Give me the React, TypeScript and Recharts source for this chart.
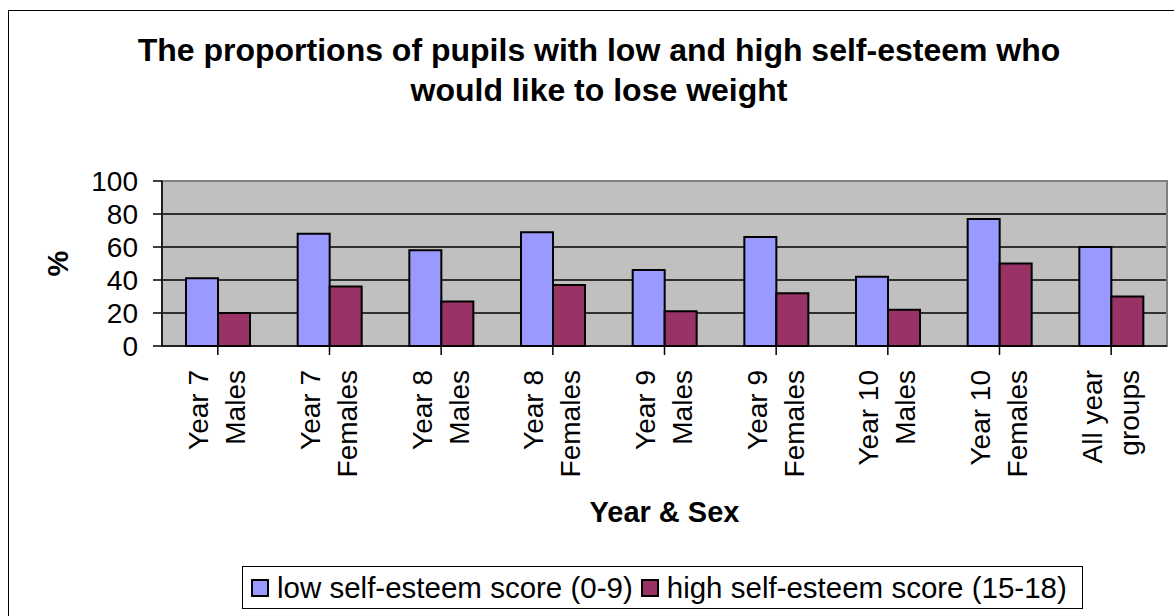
import React from 'react';
import { BarChart, Bar, XAxis, YAxis, CartesianGrid, Legend, ReferenceArea, Label } from 'recharts';

const categories = ['Year 7\nMales', 'Year 7\nFemales', 'Year 8\nMales', 'Year 8\nFemales', 'Year 9\nMales', 'Year 9\nFemales', 'Year 10\nMales', 'Year 10\nFemales', 'All year\ngroups'];
const lowSelfEsteem = [41, 68, 58, 69, 46, 66, 42, 77, 60];
const highSelfEsteem = [20, 36, 27, 37, 21, 32, 22, 50, 30];
const yTicks = [0, 20, 40, 60, 80, 100];
const seriesKeys = ['low', 'high'];
const seriesNames = ['low self-esteem score (0-9)', 'high self-esteem score (15-18)'];
const titleLines = ['The proportions of pupils with low and high self-esteem who', 'would like to lose weight'];

const data = categories.map((c, i) => ({ cat: c, low: lowSelfEsteem[i], high: highSelfEsteem[i] }));

const FONT = '"Liberation Sans", Arial, Helvetica, sans-serif';
const LOW_COLOR = '#9999FF';
const HIGH_COLOR = '#993366';

const CatTick = (props: any) => {
  const { x, y, payload } = props;
  const lines = String(payload.value).split('\n');
  return (
    <g transform={`translate(${x},${y + 2})`}>
      <text transform="rotate(-90)" textAnchor="end" fontFamily={FONT} fontSize={28} fill="#000">
        <tspan x={0} y={-9.5}>{lines[0]}</tspan>
        <tspan x={0} y={27.5}>{lines[1]}</tspan>
      </text>
    </g>
  );
};

const YTitle = (props: any) => {
  const { viewBox } = props;
  const cy = viewBox.y + viewBox.height / 2;
  return (
    <text x={58} y={cy} transform={`rotate(-90, 58, ${cy})`} textAnchor="middle" dominantBaseline="central" fontFamily={FONT} fontWeight="bold" fontSize={29} fill="#000">%</text>
  );
};

const XTitle = (props: any) => {
  const { viewBox } = props;
  const cx = viewBox.x + viewBox.width / 2;
  return (
    <text x={cx} y={521.5} textAnchor="middle" fontFamily={FONT} fontWeight="bold" fontSize={29} fill="#000">Year &amp; Sex</text>
  );
};

const LegendBox = (props: any) => {
  const payload = [...(props.payload || [])].sort((a: any, b: any) => seriesKeys.indexOf(a.dataKey) - seriesKeys.indexOf(b.dataKey));
  return (
    <div style={{ width: 841, height: 43, boxSizing: 'border-box', border: '1px solid #000', background: '#fff', display: 'flex', alignItems: 'center', paddingLeft: 8, fontFamily: FONT, fontSize: 29.5, color: '#000', whiteSpace: 'nowrap' }}>
      {payload.map((p: any, i: number) => (
        <div key={i} style={{ display: 'flex', alignItems: 'center', marginLeft: i === 0 ? 0 : 8 }}>
          <div style={{ width: 18, height: 18, boxSizing: 'border-box', border: '2px solid #000', background: p.color, marginRight: 8 }} />
          <span>{p.value}</span>
        </div>
      ))}
    </div>
  );
};

export default function App() {
  return (
    <div style={{ position: 'absolute', left: 0, top: 0, width: 1174, height: 616, background: '#fff', overflow: 'hidden' }}>
      <div style={{ position: 'absolute', left: 8, top: 10, width: 1166, height: 606, boxSizing: 'border-box', borderLeft: '1.5px solid #000', borderTop: '1.5px solid #000' }} />
      <div style={{ position: 'absolute', left: 24, top: 29.5, width: 1150, textAlign: 'center', fontFamily: FONT, fontWeight: 'bold', fontSize: 32, lineHeight: '40.7px', color: '#000' }}>
        {titleLines.map((l, i) => <div key={i}>{l}</div>)}
      </div>
      <div style={{ position: 'absolute', left: 0, top: 0 }}>
        <BarChart width={1174} height={616} data={data} margin={{ top: 181, right: 7, bottom: 170, left: 62 }} barCategoryGap="21.5%" barGap={0}>
          <CartesianGrid vertical={false} horizontal={true} fill="#C0C0C0" stroke="#000" strokeWidth={1.5} />
          <ReferenceArea y1={0} y2={100} fill="none" stroke="#808080" strokeWidth={2} ifOverflow="visible" />
          <XAxis dataKey="cat" height={100} tick={<CatTick />} tickSize={9} tickMargin={13} interval={0} stroke="#000" strokeWidth={1.5} tickLine={{ stroke: '#000', strokeWidth: 1.5 }}>
            <Label content={<XTitle />} />
          </XAxis>
          <YAxis domain={[0, 100]} ticks={yTicks} width={100} tickSize={9} tickMargin={15} interval={0} stroke="#000" strokeWidth={1.5} tick={{ fontFamily: FONT, fontSize: 28, fill: '#000' }} tickLine={{ stroke: '#000', strokeWidth: 1.5 }}>
            <Label content={<YTitle />} />
          </YAxis>
          <Legend layout="horizontal" verticalAlign="middle" align="center" wrapperStyle={{ top: 566, left: 242, width: 841, height: 43 }} content={<LegendBox />} />
          <Bar dataKey="low" name={seriesNames[0]} fill={LOW_COLOR} stroke="#000" strokeWidth={2} isAnimationActive={false} />
          <Bar dataKey="high" name={seriesNames[1]} fill={HIGH_COLOR} stroke="#000" strokeWidth={2} isAnimationActive={false} />
        </BarChart>
      </div>
    </div>
  );
}
